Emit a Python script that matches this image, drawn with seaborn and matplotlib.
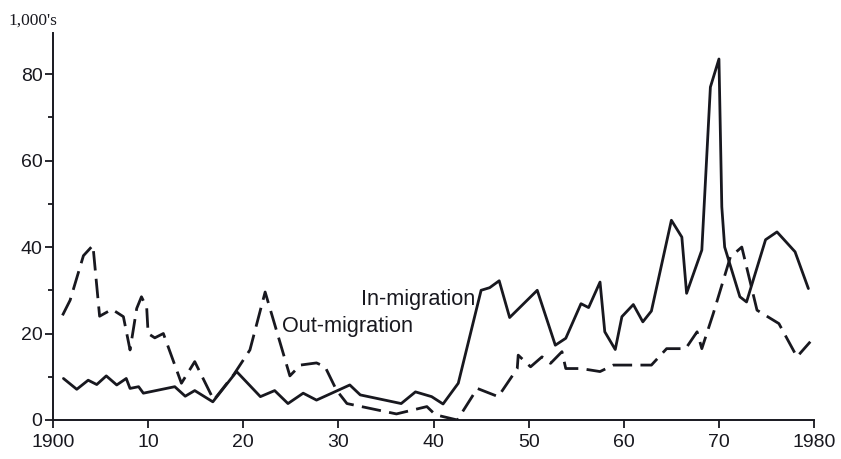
import matplotlib
matplotlib.use("Agg")
import matplotlib.pyplot as plt
import seaborn as sns
import pandas as pd

# In-migration (solid line), vertices, 1,000's
in_years = [1901.1, 1902.5, 1903.7, 1904.6, 1905.6, 1906.7, 1907.7, 1908.1, 1909.0, 1909.5,
            1912.8, 1913.9, 1914.9, 1916.8, 1919.3, 1921.8, 1923.3, 1924.7, 1926.3, 1927.7,
            1931.2, 1932.3, 1936.6, 1938.1, 1939.8, 1941.0, 1942.6, 1945.0, 1945.9, 1946.9,
            1948.0, 1950.9, 1952.8, 1953.9, 1955.5, 1956.3, 1957.5, 1958.0, 1959.1, 1959.8,
            1961.0, 1962.0, 1962.9, 1965.0, 1966.1, 1966.6, 1968.2, 1969.1, 1970.0, 1970.3,
            1970.6, 1972.2, 1972.9, 1974.9, 1976.1, 1978.0, 1979.4]
in_values = [9.6, 7.1, 9.2, 8.2, 10.2, 8.1, 9.6, 7.3, 7.7, 6.2,
             7.7, 5.5, 6.8, 4.2, 11.2, 5.4, 6.8, 3.8, 6.2, 4.6,
             8.1, 5.8, 3.8, 6.5, 5.4, 3.7, 8.5, 30.0, 30.6, 32.2,
             23.7, 30.0, 17.3, 18.9, 26.9, 26.0, 31.9, 20.4, 16.3, 23.9,
             26.7, 22.7, 25.2, 46.2, 42.3, 29.3, 39.3, 77.0, 83.5, 49.3,
             40.0, 28.5, 27.3, 41.7, 43.5, 38.9, 30.4]

# Out-migration (dashed line)
out_years = [1901.0, 1901.8, 1903.2, 1904.2, 1904.9, 1906.2, 1907.4, 1908.1, 1908.8, 1909.3,
             1909.85, 1910.0, 1910.7, 1911.6, 1913.5, 1914.9, 1916.9, 1919.0, 1920.7, 1922.3,
             1924.9, 1926.0, 1927.7, 1928.6, 1929.8, 1930.9, 1936.1, 1939.3, 1940.2, 1942.5,
             1944.6, 1946.8, 1948.8, 1948.9, 1950.2, 1951.4, 1952.3, 1953.5, 1953.9, 1955.5,
             1957.5, 1958.9, 1962.9, 1964.5, 1966.5, 1967.7, 1968.2, 1969.4, 1971.2, 1972.4,
             1974.0, 1976.3, 1978.2, 1979.6]
out_values = [24.2, 27.7, 38.0, 40.4, 24.0, 25.6, 23.9, 16.2, 25.8, 28.5,
              26.0, 20.0, 19.0, 20.0, 8.5, 13.5, 4.6, 10.5, 16.2, 29.6,
              10.2, 12.7, 13.2, 12.3, 6.9, 3.8, 1.4, 3.1, 1.2, 0.0,
              7.3, 5.4, 11.9, 15.0, 12.3, 14.6, 13.1, 15.8, 11.9, 11.9,
              11.2, 12.7, 12.7, 16.5, 16.5, 20.4, 16.5, 24.6, 37.7, 40.0,
              25.4, 22.3, 14.6, 18.1]

x_ticks = [1900, 1910, 1920, 1930, 1940, 1950, 1960, 1970, 1980]
x_tick_labels = ["1900", "10", "20", "30", "40", "50", "60", "70", "1980"]
y_ticks = [0, 20, 40, 60, 80]

ink = "#18181f"

sns.set_style("ticks")
plt.rcParams["font.family"] = ["Liberation Sans", "DejaVu Sans"]

fig = plt.figure(figsize=(8.41, 4.59), dpi=100)
ax = fig.add_axes([0.063, 0.085, 0.905, 0.843])

df_in = pd.DataFrame({"year": in_years, "value": in_values})
df_out = pd.DataFrame({"year": out_years, "value": out_values})

sns.lineplot(data=df_in, x="year", y="value", ax=ax, color=ink, linewidth=2.0,
             sort=False, estimator=None)
sns.lineplot(data=df_out, x="year", y="value", ax=ax, color=ink, linewidth=2.0,
             sort=False, estimator=None, dashes=False)
ax.lines[-1].set_dashes([7, 3])

ax.set_xlim(1900, 1980)
ax.set_ylim(0, 89.5)
ax.set_xticks(x_ticks)
ax.set_xticklabels(x_tick_labels)
ax.set_yticks(y_ticks)
ax.set_yticks([10, 30, 50, 70], minor=True)
ax.set_xlabel("")
ax.set_ylabel("")

ax.tick_params(axis="both", which="major", labelsize=14, length=6, width=1.3,
               color=ink, labelcolor=ink)
ax.tick_params(axis="y", which="major", pad=1.5)
ax.tick_params(axis="x", which="major", pad=4)
ax.tick_params(axis="y", which="minor", length=3.5, width=1.3, color=ink)

sns.despine(ax=ax)
for s in ["left", "bottom"]:
    ax.spines[s].set_linewidth(1.4)
    ax.spines[s].set_color(ink)

ax.text(1944.4, 27.8, "In-migration", fontsize=15.6, color=ink, ha="right", va="center")
ax.text(1924.1, 21.7, "Out-migration", fontsize=15.6, color=ink, ha="left", va="center")

fig.text(8 / 841, 1 - 21 / 459, "1,000's", fontsize=12.5, color=ink,
         family=["Liberation Serif", "DejaVu Serif"], va="center", ha="left")

fig.savefig("out.png", dpi=100)
